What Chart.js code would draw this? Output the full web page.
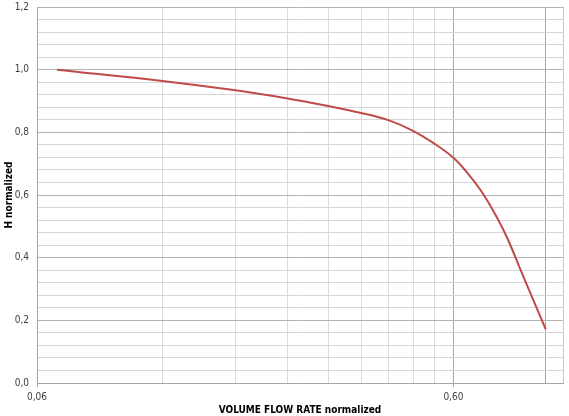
<!DOCTYPE html>
<html>
<head>
<meta charset="utf-8">
<script src="https://cdn.jsdelivr.net/npm/chart.js@4.4.1/dist/chart.umd.min.js"></script>
<style>
  html, body { margin: 0; padding: 0; background: #fff; }
  #wrap { width: 569px; height: 416px; }
</style>
</head>
<body>
<div id="wrap"><canvas id="pumpChart"></canvas></div>
<script>
// flow rate (normalized) and head (normalized)
const flowValues = [0.067, 0.12, 0.18, 0.24, 0.30, 0.36, 0.42, 0.48, 0.54, 0.60, 0.646, 0.697, 0.749, 0.806, 0.884, 1.0];
const headValues = [1.0, 0.964, 0.934, 0.908, 0.884, 0.862, 0.838, 0.805, 0.764, 0.719, 0.673, 0.616, 0.548, 0.466, 0.339, 0.171];

// vertical grid positions on the log axis
const xGridTicks = [0.06, 0.12, 0.18, 0.24, 0.30, 0.36, 0.42, 0.48, 0.54, 0.60, 1.0, 1.1];
const xLabelTicks = [0.06, 0.60];
const xMajorTicks = [0.60, 1.0];

const fmt = (v, d) => v.toFixed(d).replace('.', ',');
const near = (list, v) => list.some(t => Math.abs(t - v) < 1e-6);

const points = flowValues.map((x, i) => ({ x: x, y: headValues[i] }));

const labelFont = 'Liberation Sans Narrow, DejaVu Sans Condensed, Liberation Sans';

const ctx = document.getElementById('pumpChart').getContext('2d');
new Chart(ctx, {
    type: 'line',
    data: {
        datasets: [{
            data: points,
            borderColor: '#be4b48',
            borderWidth: 2,
            pointRadius: 0,
            fill: false,
            tension: 0.4
        }]
    },
    options: {
        responsive: true,
        maintainAspectRatio: false,
        animation: false,
        layout: {
            autoPadding: false,
            padding: { top: 7, right: 6, left: 0, bottom: 0 }
        },
        plugins: {
            legend: { display: false },
            tooltip: { enabled: false }
        },
        scales: {
            x: {
                type: 'logarithmic',
                min: 0.06,
                max: 1.1,
                afterBuildTicks: function (scale) {
                    scale.ticks = xGridTicks.map(v => ({ value: v }));
                },
                afterFit: function (scale) {
                    scale.height = 33;
                    scale.paddingLeft = 0;
                    scale.paddingRight = 0;
                },
                border: { color: '#a6a6a6', width: 1 },
                grid: {
                    color: function (c) {
                        const v = c.tick ? c.tick.value : 0;
                        if (near(xMajorTicks, v)) return '#a6a6a6';
                        if (near([1.1], v)) return '#c8c8c8';
                        return '#dcdcdc';
                    },
                    lineWidth: 1,
                    drawTicks: true,
                    tickLength: 4,
                    tickColor: function (c) {
                        const v = c.tick ? c.tick.value : 0;
                        return near(xLabelTicks, v) ? '#a6a6a6' : 'rgba(0,0,0,0)';
                    }
                },
                ticks: {
                    autoSkip: false,
                    maxRotation: 0,
                    padding: 4,
                    color: '#404040',
                    font: { family: labelFont, size: 10 },
                    callback: function (v) {
                        return near(xLabelTicks, v) ? fmt(v, 2) : '';
                    }
                },
                title: {
                    display: true,
                    text: 'VOLUME FLOW RATE normalized',
                    color: '#000',
                    font: { family: labelFont, size: 10, weight: 'bold' },
                    padding: { top: 0, bottom: 0 }
                }
            },
            y: {
                min: 0,
                max: 1.2,
                afterFit: function (scale) {
                    scale.width = 37;
                    scale.paddingTop = 0;
                    scale.paddingBottom = 0;
                },
                border: { color: '#a6a6a6', width: 1 },
                grid: {
                    color: function (c) {
                        const v = c.tick ? c.tick.value : 0;
                        return Math.round(v * 100) % 20 === 0 ? '#b4b4b4' : '#d6d6d6';
                    },
                    lineWidth: 1,
                    drawTicks: false
                },
                ticks: {
                    stepSize: 0.04,
                    autoSkip: false,
                    padding: 8,
                    color: '#404040',
                    font: { family: labelFont, size: 10 },
                    callback: function (v) {
                        return Math.round(v * 100) % 20 === 0 ? fmt(v, 1) : '';
                    }
                },
                title: {
                    display: true,
                    text: 'H normalized',
                    color: '#000',
                    font: { family: labelFont, size: 10, weight: 'bold' },
                    padding: { top: 3, bottom: 0 }
                }
            }
        }
    }
});
</script>
</body>
</html>
